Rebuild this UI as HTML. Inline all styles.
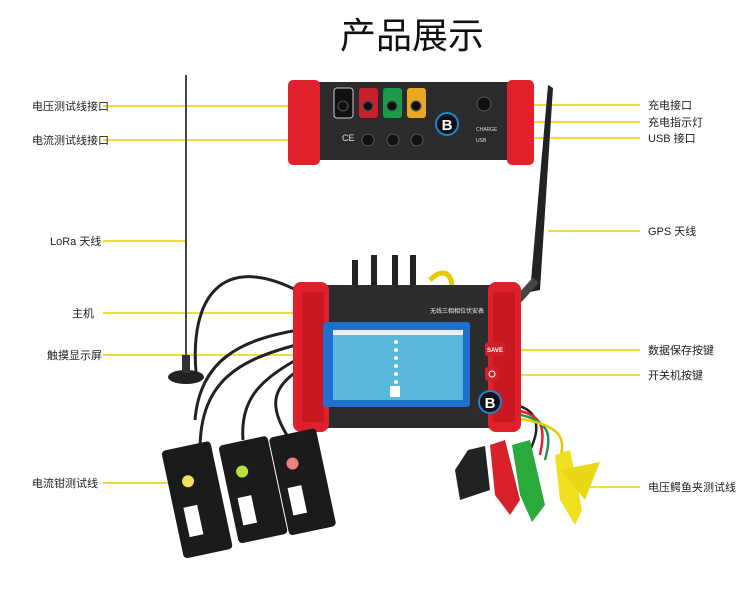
<!DOCTYPE html>
<html><head><meta charset="utf-8"><style>
html,body{margin:0;padding:0;background:#fff;}
svg{display:block;}
text{font-family:"Liberation Sans","Noto Sans CJK SC",sans-serif;}
</style></head><body>
<svg width="750" height="594" viewBox="0 0 750 594" xmlns="http://www.w3.org/2000/svg">
<text x="412" y="48" font-size="36" text-anchor="middle" fill="#111">产品展示</text>

<!-- leader lines -->
<g stroke="#f2dc3c" stroke-width="2">
<line x1="103" y1="106" x2="335" y2="106"/>
<line x1="103" y1="140" x2="365" y2="140"/>
<line x1="103" y1="241" x2="186" y2="241"/>
<line x1="103" y1="313" x2="300" y2="313"/>
<line x1="103" y1="355" x2="338" y2="355"/>
<line x1="103" y1="483" x2="190" y2="483"/>
<line x1="486" y1="105" x2="640" y2="105"/>
<line x1="486" y1="122" x2="640" y2="122"/>
<line x1="486" y1="138" x2="640" y2="138"/>
<line x1="548" y1="231" x2="640" y2="231"/>
<line x1="505" y1="350" x2="640" y2="350"/>
<line x1="500" y1="375" x2="640" y2="375"/>
<line x1="590" y1="487" x2="640" y2="487"/>
</g>
<g font-size="11" fill="#222">
<text x="32" y="110">电压测试线接口</text>
<text x="32" y="144">电流测试线接口</text>
<text x="50" y="245">LoRa 天线</text>
<text x="72" y="317">主机</text>
<text x="47" y="359">触摸显示屏</text>
<text x="32" y="487">电流钳测试线</text>
<text x="648" y="109">充电接口</text>
<text x="648" y="126">充电指示灯</text>
<text x="648" y="142">USB 接口</text>
<text x="648" y="235">GPS 天线</text>
<text x="648" y="354">数据保存按键</text>
<text x="648" y="379">开关机按键</text>
<text x="648" y="491">电压鳄鱼夹测试线</text>
</g>

<!-- top device -->
<rect x="300" y="82" width="220" height="78" fill="#2b2b2d"/>
<rect x="288" y="80" width="32" height="85" rx="5" fill="#e0202a"/>
<rect x="507" y="80" width="27" height="85" rx="5" fill="#e0202a"/>
<rect x="334" y="88" width="19" height="30" rx="3" fill="#111" stroke="#ccc"/>
<rect x="359" y="88" width="19" height="30" rx="3" fill="#c8202a"/>
<rect x="383" y="88" width="19" height="30" rx="3" fill="#1a9a4a"/>
<rect x="407" y="88" width="19" height="30" rx="3" fill="#e8a820"/>
<g fill="#111" stroke="#555"><circle cx="343" cy="106" r="5"/><circle cx="368" cy="106" r="5"/><circle cx="392" cy="106" r="5"/><circle cx="416" cy="106" r="5"/>
<circle cx="368" cy="140" r="6"/><circle cx="393" cy="140" r="6"/><circle cx="417" cy="140" r="6"/><circle cx="484" cy="104" r="7"/></g>
<text x="342" y="141" font-size="9" fill="#ddd">CE</text>
<circle cx="447" cy="124" r="11" fill="#111" stroke="#1e88d0" stroke-width="2"/>
<text x="447" y="130" font-size="15" font-weight="bold" fill="#fff" text-anchor="middle">B</text>
<text x="476" y="131" font-size="5" fill="#ddd">CHARGE</text>
<text x="476" y="142" font-size="5" fill="#ddd">USB</text>

<!-- LoRa antenna -->
<line x1="186" y1="75" x2="186" y2="362" stroke="#444" stroke-width="2"/>
<ellipse cx="186" cy="377" rx="18" ry="7" fill="#222"/>
<rect x="182" y="355" width="8" height="18" fill="#333"/>
<path d="M196 372 C190 300 220 250 300 292" stroke="#222" stroke-width="3" fill="none"/>

<!-- GPS antenna -->
<path d="M548 85 L553 88 L540 290 L530 292 Z" fill="#222"/>
<path d="M518 300 L536 280" stroke="#444" stroke-width="8"/>

<!-- cables on top of main -->
<g stroke="#222" stroke-width="6"><line x1="355" y1="260" x2="355" y2="290"/><line x1="374" y1="255" x2="374" y2="290"/><line x1="395" y1="255" x2="395" y2="290"/><line x1="413" y1="255" x2="413" y2="290"/></g>
<path d="M430 280 C440 270 450 270 452 285" stroke="#e8c800" stroke-width="5" fill="none"/>

<!-- clamp cables -->
<g stroke="#222" stroke-width="3" fill="none">
<path d="M296 345 C240 360 200 380 200 450"/>
<path d="M296 360 C260 380 240 400 243 440"/>
<path d="M296 372 C270 390 270 410 290 440"/>
<path d="M298 330 C240 340 200 360 195 420"/>
</g>
<!-- voltage leads -->
<g fill="none" stroke-width="2.5">
<path d="M515 405 C540 410 540 430 530 450" stroke="#222"/>
<path d="M515 410 C545 415 545 430 540 455" stroke="#e0202a"/>
<path d="M515 414 C555 420 550 440 545 460" stroke="#1a9a4a"/>
<path d="M515 418 C565 425 565 440 560 460" stroke="#e8c800"/>
</g>

<!-- main device -->
<rect x="305" y="285" width="205" height="143" rx="6" fill="#2c2c2e"/>
<rect x="293" y="282" width="36" height="150" rx="8" fill="#e0202a"/>
<rect x="488" y="282" width="33" height="150" rx="8" fill="#e0202a"/>
<rect x="302" y="292" width="22" height="130" fill="#c91820"/>
<rect x="493" y="292" width="22" height="130" fill="#c91820"/>
<text x="430" y="313" font-size="6" fill="#eee">无线三相相位伏安表</text>
<rect x="323" y="322" width="147" height="85" rx="3" fill="#1f6fcf"/>
<rect x="333" y="330" width="130" height="70" fill="#5ab8dc"/>
<rect x="333" y="330" width="130" height="5" fill="#eee"/>
<g fill="#fff"><circle cx="396" cy="342" r="2"/><circle cx="396" cy="350" r="2"/><circle cx="396" cy="358" r="2"/><circle cx="396" cy="366" r="2"/><circle cx="396" cy="374" r="2"/><circle cx="396" cy="382" r="2"/></g>
<rect x="390" y="386" width="10" height="11" fill="#fff"/>
<rect x="485" y="342" width="20" height="14" rx="3" fill="#d0202a"/>
<text x="495" y="352" font-size="6" font-weight="bold" fill="#fff" text-anchor="middle">SAVE</text>
<rect x="485" y="367" width="14" height="14" rx="3" fill="#d0202a"/>
<circle cx="492" cy="374" r="3" fill="none" stroke="#fff"/>
<circle cx="490" cy="402" r="11" fill="#111" stroke="#1e88d0" stroke-width="2"/>
<text x="490" y="408" font-size="15" font-weight="bold" fill="#fff" text-anchor="middle">B</text>

<!-- current clamps -->
<g transform="rotate(-12 195 490)"><rect x="170" y="445" width="50" height="110" rx="4" fill="#1b1b1b"/><circle cx="190" cy="480" r="6" fill="#f0e060"/><rect x="180" y="505" width="14" height="30" fill="#fff"/></g>
<g transform="rotate(-12 250 475)"><rect x="225" y="440" width="50" height="100" rx="4" fill="#1b1b1b"/><circle cx="243" cy="470" r="6" fill="#b8e040"/><rect x="233" y="495" width="14" height="28" fill="#fff"/></g>
<g transform="rotate(-12 300 465)"><rect x="275" y="432" width="48" height="100" rx="4" fill="#1b1b1b"/><circle cx="293" cy="462" r="6" fill="#f08080"/><rect x="283" y="485" width="14" height="28" fill="#fff"/></g>

<!-- alligator clips -->
<path d="M468 450 L485 446 L490 490 L460 500 L455 470 Z" fill="#222"/>
<path d="M490 445 L505 440 L520 500 L510 515 L495 495 Z" fill="#d8202a"/>
<path d="M512 445 L530 440 L545 505 L532 522 L520 495 Z" fill="#2aaa3a"/>
<path d="M555 455 L570 450 L582 510 L575 525 L560 500 Z" fill="#f0e020"/>
<path d="M560 470 L600 462 L585 500 Z" fill="#e8d818"/>
</svg>
</body></html>
